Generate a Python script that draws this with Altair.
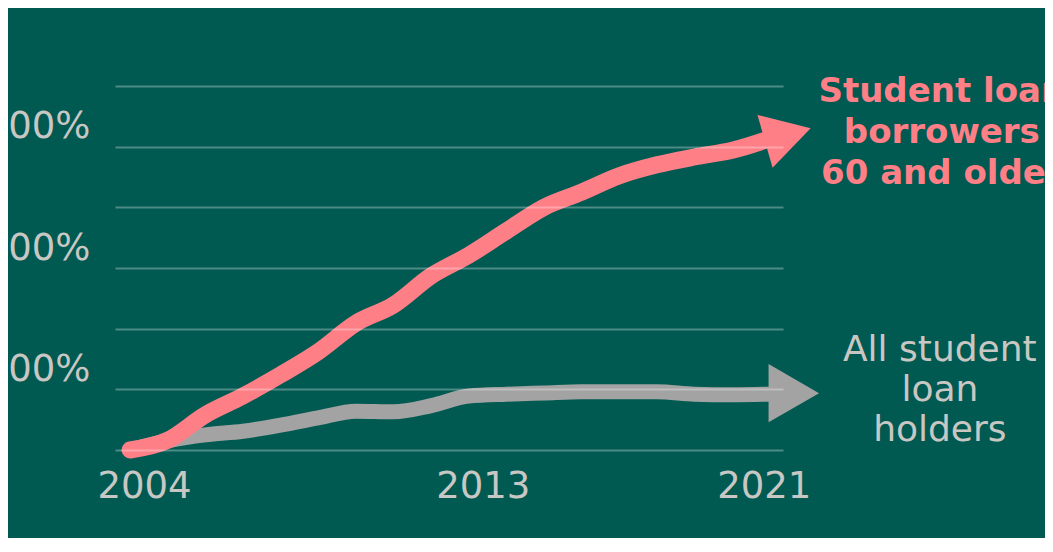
import altair as alt
import pandas as pd

# ---- data ----
years = list(range(2004, 2022))
older_60 = [0, 16, 58, 89, 124, 162, 209, 239, 287, 321, 361, 400, 425, 452, 470, 483, 494, 513]
all_holders = [0, 15, 25, 31, 41, 53, 64, 63, 73, 89, 92, 94, 96, 96, 96, 92, 91, 92]
label_older = "Student loan\nborrowers\n60 and older"
label_all = "All student\nloan\nholders"
y_ticks = [0, 100, 200, 300, 400, 500, 600]
x_ticks = [2004, 2013, 2021]

PINK = "#ff7f87"
GRAY = "#a3a3a3"
BG = "#005a52"
TXT = "#c9c7c3"
FONT = "DejaVu Sans"

df_old = pd.DataFrame({"year": years, "value": older_60})
df_all = pd.DataFrame({"year": years, "value": all_holders})
end_old = pd.DataFrame({"year": [years[-1]], "value": [older_60[-1]], "label": [label_older]})
end_all = pd.DataFrame({"year": [years[-1]], "value": [all_holders[-1]], "label": [label_all]})

x_enc = alt.X(
    "year:Q",
    scale=alt.Scale(domain=[2003.6, 2021.35], nice=False, zero=False),
    axis=alt.Axis(
        values=x_ticks, format="d", grid=False, domain=False, ticks=False,
        labelFontSize=37, labelColor=TXT, labelFont=FONT,
        labelPadding=18, labelFlush=False, labelOverlap=False, title=None,
        labelOffset=alt.condition("datum.value == 2021", alt.value(-6), alt.value(14)),
    ),
)
y_enc = alt.Y(
    "value:Q",
    scale=alt.Scale(domain=[0, 600], nice=False),
    axis=alt.Axis(
        values=y_ticks,
        labelExpr="datum.value % 200 == 100 ? datum.value + '%' : ''",
        grid=True, gridColor="#ffffff", gridOpacity=0.3, gridWidth=2,
        domain=False, ticks=False, labelFontSize=37, labelColor=TXT, labelFont=FONT,
        labelPadding=25, labelOffset=-20,
        labelOverlap=False, labelBound=False, title=None, zindex=1,
    ),
)

line_all = alt.Chart(df_all).mark_line(
    color=GRAY, strokeWidth=15, interpolate="monotone", strokeCap="round"
).encode(x=x_enc, y=y_enc)

line_old = alt.Chart(df_old).mark_line(
    color=PINK, strokeWidth=17, interpolate="monotone", strokeCap="round"
).encode(x=x_enc, y=y_enc)

arrow_all = alt.Chart(end_all).mark_point(
    shape="triangle-right", filled=True, size=3400, color=GRAY, opacity=1,
    xOffset=24, yOffset=-1,
).encode(x=x_enc, y=y_enc)

arrow_old = alt.Chart(end_old).mark_point(
    shape="triangle-right", filled=True, size=3000, color=PINK, opacity=1,
    angle=344, xOffset=18, yOffset=-4,
).encode(x=x_enc, y=y_enc)

text_old = alt.Chart(end_old).mark_text(
    align="center", baseline="middle", dx=172, dy=-47, lineBreak="\n",
    lineHeight=41, font=FONT, fontSize=34, fontWeight="bold", color=PINK,
).encode(x=x_enc, y=y_enc, text="label:N")

text_all = alt.Chart(end_all).mark_text(
    align="center", baseline="middle", dx=170, dy=-44, lineBreak="\n",
    lineHeight=40, font=FONT, fontSize=36, color=TXT,
).encode(x=x_enc, y=y_enc, text="label:N")

chart = alt.layer(
    line_all, line_old, arrow_all, arrow_old, text_old, text_all
).properties(
    width=668, height=364,
    autosize=alt.AutoSizeParams(type="none"),
    padding={"left": 107, "top": 78, "right": 262, "bottom": 88},
    background=BG,
).configure_view(stroke=None)

chart.save("out.html", embed_options={"renderer": "svg", "actions": False})
